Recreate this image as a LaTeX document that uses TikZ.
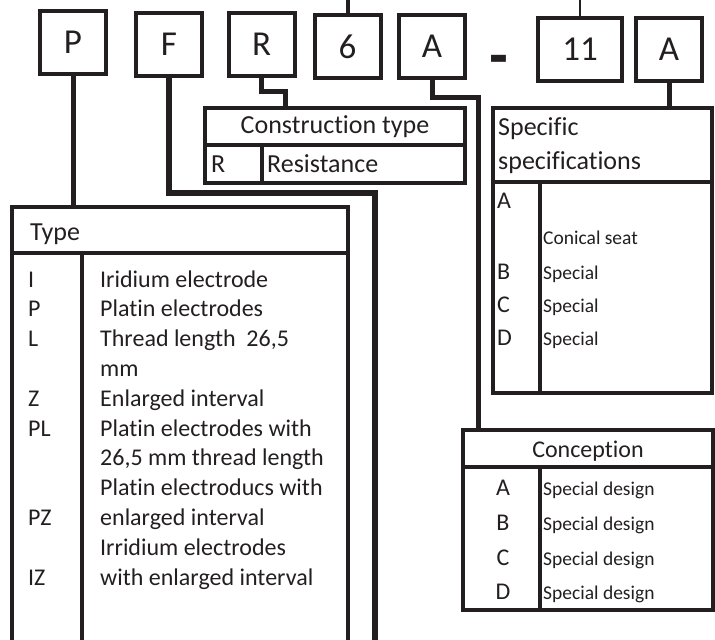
\documentclass[tikz,border=0pt]{standalone}
\usepackage{fontspec}
\setmainfont{Carlito}[Ligatures={NoCommon,NoContextual}]
\definecolor{ink}{HTML}{231F20}
\begin{document}
\begin{tikzpicture}[x=1pt,y=-1pt,
  codebox/.style={draw=ink, line width=4pt, minimum width=66pt, minimum height=63pt, inner sep=0pt, text=ink, font=\fontsize{35}{40}\selectfont},
  conn/.style={draw=ink, line width=5pt, line join=miter},
  frame/.style={draw=ink, line width=4pt, inner sep=0pt},
  rule/.style={draw=ink, line width=4pt},
  txt/.style={inner sep=0pt, text=ink, anchor=base west},
  ctxt/.style={inner sep=0pt, text=ink, anchor=base},
  big/.style={font=\fontsize{26}{31}\selectfont},
  mid/.style={font=\fontsize{24}{29}\selectfont},
  small/.style={font=\fontsize{19.5}{23}\selectfont}
]
\useasboundingbox (0,0) rectangle (715,640);

% top code boxes
\node[codebox] (P) at (73,42.5) {P};
\node[codebox] (F) at (169,44.5) {F};
\node[codebox] (R) at (261.5,44.5) {R};
\node[codebox] (six) at (347.5,46.5) {6};
\node[codebox] (A1) at (432,46) {A};
\node[ctxt, font=\fontsize{40}{44}\selectfont\bfseries] (dash) at (498.5,81) {\scalebox{1.05}[2.0]{–}};
\node[codebox, minimum width=84pt] (eleven) at (580,49.5) {11};
\node[codebox] (A2) at (669,49.5) {A};

\coordinate (sixtop) at (348,0);
\coordinate (eleventop) at (580,0);
\draw[ink, line width=4pt] (sixtop) -- (six.north -| sixtop);
\draw[ink, line width=2.5pt] (eleventop) -- (eleven.north -| eleventop);

% tables (frames)
\node[frame, minimum width=260pt, minimum height=75pt] (ctype) at (335,145.5) {};
\node[frame, minimum width=219pt, minimum height=285pt] (spec) at (602.5,250.5) {};
\node[frame, minimum width=250pt, minimum height=180pt] (concep) at (588,520) {};
\node[frame, line width=3.3pt, minimum width=336pt, minimum height=460pt] (type) at (180,437) {};

% construction type
\draw[rule] (205,145) -- (465,145);
\draw[rule] (262,145) -- (262,183);
\node[ctxt, big] (cth) at (335,133) {Construction type};
\node[txt, big] (ctR) at (211,172) {R};
\node[txt, big] (ctRd) at (267,172) {Resistance};

% specific specifications
\draw[rule] (493,182) -- (712,182);
\draw[rule] (540,182) -- (540,393);
\node[txt, big] (sph1) at (498,135) {Specific};
\node[txt, big] (sph2) at (498,169) {specifications};
\node[txt, mid] (spA) at (497,208) {A};
\node[txt, small] (spAd) at (543,244) {Conical seat};
\node[txt, mid] (spB) at (497,279) {B};
\node[txt, small] (spBd) at (543,279) {Special};
\node[txt, mid] (spC) at (497,312) {C};
\node[txt, small] (spCd) at (543,312) {Special};
\node[txt, mid] (spD) at (497,345) {D};
\node[txt, small] (spDd) at (543,345) {Special};

% conception
\draw[rule] (463,467) -- (713,467);
\draw[rule] (540,467) -- (540,612);
\node[ctxt, mid] (coh) at (588,457) {Conception};
\node[ctxt, mid] (coA) at (503,495) {A};
\node[txt, small] (coAd) at (543,495) {Special design};
\node[ctxt, mid] (coB) at (503,530) {B};
\node[txt, small] (coBd) at (543,530) {Special design};
\node[ctxt, mid] (coC) at (503,565) {C};
\node[txt, small] (coCd) at (543,565) {Special design};
\node[ctxt, mid] (coD) at (503,599) {D};
\node[txt, small] (coDd) at (543,599) {Special design};

% type
\draw[ink, line width=3.3pt] (12,253) -- (348,253);
\draw[ink, line width=3.3pt] (82,253) -- (82,667);
\node[txt, big] (tyh) at (30,240) {Type};
\node[txt, mid] (t0) at (28,287) {I};
\node[txt, mid] (d0) at (100,287) {Iridium electrode};
\node[txt, mid] (t1) at (28,316.8) {P};
\node[txt, mid] (d1) at (100,316.8) {Platin electrodes};
\node[txt, mid] (t2) at (28,346.6) {L};
\node[txt, mid] (d2) at (100,346.6) {Thread length\ \ 26,5};
\node[txt, mid] (d3) at (100,376.4) {mm};
\node[txt, mid] (t4) at (28,406.2) {Z};
\node[txt, mid] (d4) at (100,406.2) {Enlarged interval};
\node[txt, mid] (t5) at (28,436) {PL};
\node[txt, mid] (d5) at (100,436) {Platin electrodes with};
\node[txt, mid] (d6) at (100,465.8) {26,5 mm thread length};
\node[txt, mid] (d7) at (100,495.6) {Platin electroducs with};
\node[txt, mid] (t8) at (28,525.4) {PZ};
\node[txt, mid] (d8) at (100,525.4) {enlarged interval};
\node[txt, mid] (d9) at (100,555.2) {Irridium electrodes};
\node[txt, mid] (t10) at (28,585) {IZ};
\node[txt, mid] (d10) at (100,585) {with enlarged interval};

% connectors
\draw[conn] (P.south) -- (P.south |- type.north);
\coordinate (Fend) at (375,645);
\draw[conn, line width=6pt] (F.south) |- (375,193) -- (Fend);
\draw[conn] (R.south) |- (285,91) -- (285,0 |- ctype.north);
\draw[conn] (A1.south) |- (478,97) -- (478,0 |- concep.north);
\draw[conn] (A2.south) -- (A2.south |- spec.north);
\end{tikzpicture}
\end{document}
